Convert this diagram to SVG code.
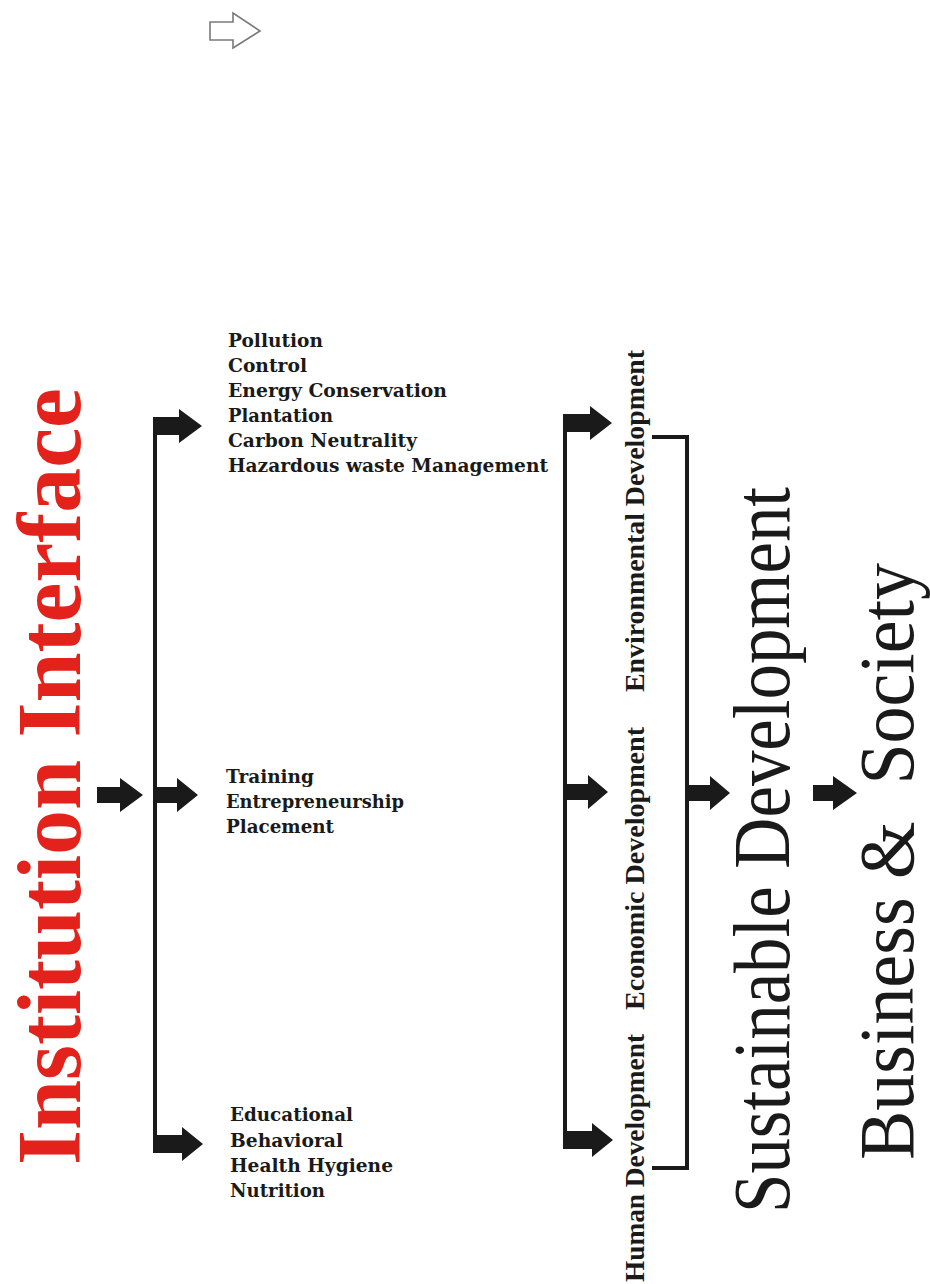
<svg xmlns="http://www.w3.org/2000/svg" width="930" height="1284" viewBox="0 0 930 1284">
<style>
.title{font-family:'Liberation Serif','Times New Roman',serif;font-weight:bold;fill:#e3221c}
.big{font-family:'Liberation Serif','Times New Roman',serif;font-weight:normal;fill:#1a1a1a}
.item{font-family:'DejaVu Serif','Liberation Serif',serif;font-weight:bold;font-size:18px;fill:#1a1a1a}
.dim{font-family:'Liberation Serif','Times New Roman',serif;font-weight:bold;font-size:28px;fill:#1a1a1a}
.line{fill:none;stroke:#1a1a1a;stroke-width:4}
.arr{fill:#1a1a1a}
</style>
<rect width="930" height="1284" fill="#ffffff"/>

<g id="outline-arrow">
<path d="M210,22 H233 V13 L260,31 L233,48 V40 H210 Z" fill="#ffffff" stroke="#7a7a7a" stroke-width="1.6"/>
</g>

<g id="institution-interface">
<text class="title" font-family="Liberation Serif" font-size="90" transform="translate(80,1165) rotate(-90)" textLength="777" lengthAdjust="spacingAndGlyphs">Institution Interface</text>
</g>

<g id="environment-items">
<text class="item" x="228" y="347" textLength="95" lengthAdjust="spacingAndGlyphs">Pollution</text>
<text class="item" x="228" y="372" textLength="79" lengthAdjust="spacingAndGlyphs">Control</text>
<text class="item" x="228" y="397" textLength="219" lengthAdjust="spacingAndGlyphs">Energy Conservation</text>
<text class="item" x="228" y="422" textLength="105" lengthAdjust="spacingAndGlyphs">Plantation</text>
<text class="item" x="228" y="447" textLength="189" lengthAdjust="spacingAndGlyphs">Carbon Neutrality</text>
<text class="item" x="228" y="472" textLength="320" lengthAdjust="spacingAndGlyphs">Hazardous waste Management</text>
</g>

<g id="economic-items">
<text class="item" x="226" y="783" textLength="88" lengthAdjust="spacingAndGlyphs">Training</text>
<text class="item" x="226" y="808" textLength="178" lengthAdjust="spacingAndGlyphs">Entrepreneurship</text>
<text class="item" x="226" y="833" textLength="108" lengthAdjust="spacingAndGlyphs">Placement</text>
</g>

<g id="human-items">
<text class="item" x="230" y="1121" textLength="123" lengthAdjust="spacingAndGlyphs">Educational</text>
<text class="item" x="230" y="1147" textLength="113" lengthAdjust="spacingAndGlyphs">Behavioral</text>
<text class="item" x="230" y="1172" textLength="163" lengthAdjust="spacingAndGlyphs">Health Hygiene</text>
<text class="item" x="230" y="1197" textLength="95" lengthAdjust="spacingAndGlyphs">Nutrition</text>
</g>

<g id="environmental-development">
<text class="dim" font-family="Liberation Serif" transform="translate(644,692) rotate(-90)" textLength="342" lengthAdjust="spacingAndGlyphs">Environmental Development</text>
</g>
<g id="economic-development">
<text class="dim" font-family="Liberation Serif" transform="translate(644,1010) rotate(-90)" textLength="283" lengthAdjust="spacingAndGlyphs">Economic Development</text>
</g>
<g id="human-development">
<text class="dim" font-family="Liberation Serif" transform="translate(644,1282) rotate(-90)" textLength="248" lengthAdjust="spacingAndGlyphs">Human Development</text>
</g>

<g id="sustainable-development">
<text class="big" font-family="Liberation Serif" font-size="80" transform="translate(789,1213) rotate(-90)" textLength="726" lengthAdjust="spacingAndGlyphs">Sustainable Development</text>
</g>

<g id="business-society">
<text class="big" font-family="Liberation Serif" font-size="78" transform="translate(913,1160) rotate(-90)" textLength="597" lengthAdjust="spacingAndGlyphs" xml:space="preserve">Business &amp;  Society</text>
</g>

<g id="connectors">
<path class="arr" d="M97,787 H120 V778 L143,795 L120,812 V803 H97 Z"/>
<line class="line" x1="155" y1="417" x2="155" y2="1152"/>
<path class="arr" d="M153,417 H179 V409 L202,426 L179,443 V435 H153 Z"/>
<path class="arr" d="M155,787 H177 V778 L198,795 L177,812 V803 H155 Z"/>
<path class="arr" d="M153,1135 H182 V1127 L203,1144 L182,1161 V1153 H153 Z"/>
<line class="line" x1="565" y1="415" x2="565" y2="1148"/>
<path class="arr" d="M563,414 H590 V406 L612,423 L590,440 V432 H563 Z"/>
<path class="arr" d="M565,784 H588 V775 L608,792 L588,809 V800 H565 Z"/>
<path class="arr" d="M563,1131 H592 V1123 L613,1140 L592,1157 V1149 H563 Z"/>
<path class="line" d="M652,437 H687 V1168 H652"/>
<path class="arr" d="M687,785 H710 V776 L730,793 L710,810 V801 H687 Z"/>
<path class="arr" d="M813,785 H833 V776 L857,793 L833,810 V801 H813 Z"/>
</g>
</svg>
